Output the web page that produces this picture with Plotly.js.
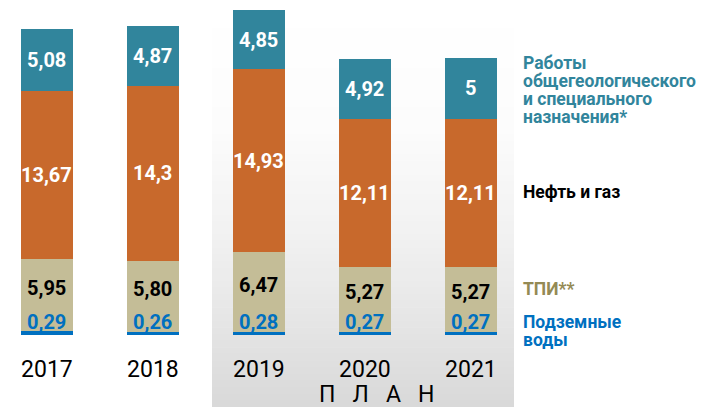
<!DOCTYPE html>
<html>
<head>
<meta charset="utf-8">
<script src="https://cdn.plot.ly/plotly-3.0.1.min.js"></script>
<style>html,body{margin:0;padding:0;background:#fff;}#chart{width:704px;height:407px;}</style>
</head>
<body>
<div id="chart"></div>
<script>
// ---- data ----
const years = ['2017', '2018', '2019', '2020', '2021'];
const water = [0.29, 0.26, 0.28, 0.27, 0.27];       // Подземные воды
const tpi = [5.95, 5.80, 6.47, 5.27, 5.27];         // ТПИ**
const oilGas = [13.67, 14.3, 14.93, 12.11, 12.11];  // Нефть и газ
const general = [5.08, 4.87, 4.85, 4.92, 5];        // Работы общегеологического и специального назначения*
const seriesNames = ['Подземные воды', 'ТПИ**', 'Нефть и газ', 'Работы общегеологического и специального назначения*'];
const planLabel = 'П\u00A0\u00A0\u00A0Л\u00A0\u00A0\u00A0А\u00A0\u00A0\u00A0Н';

// ---- styles ----
const FONT = 'Roboto, "Noto Sans", sans-serif';
const C_WATER = '#0070C0', C_TPI = '#C4BD97', C_OIL = '#C8692C', C_GEN = '#31859C';
const C_TPI_TXT = '#948A54';
const W = 704, H = 407;
const px = x => x / W, py = y => 1 - y / H;   // page pixel -> paper

// background "plan" box with vertical gradient, drawn as thin bands (decoration)
const BOX = {x0: 212, x1: 514, top: 8, bottom: 407, r: 20, bands: 60};
function grayAt(t) { // t: 0 top .. 1 bottom
  const stops = [[0, 255], [0.3, 252], [0.55, 242], [0.8, 229], [1, 216]];
  for (let k = 1; k < stops.length; k++) {
    if (t <= stops[k][0]) {
      const f = (t - stops[k - 1][0]) / (stops[k][0] - stops[k - 1][0]);
      return Math.round(stops[k - 1][1] + f * (stops[k][1] - stops[k - 1][1]));
    }
  }
  return stops[stops.length - 1][1];
}
const shapes = [];
const bandH = (BOX.bottom - BOX.top) / BOX.bands;
for (let k = 0; k < BOX.bands; k++) {
  const yTop = BOX.top + k * bandH, yBot = yTop + bandH + 0.6;
  const g = grayAt((k + 0.5) / BOX.bands);
  const col = `rgb(${g},${g},${g})`;
  if (k === 0) {
    const a = BOX.x0, b = BOX.x1, t = BOX.top, r = BOX.r, bot = t + r;
    const path = `M${px(a)},${py(t + r)} Q${px(a)},${py(t)} ${px(a + r)},${py(t)} L${px(b - r)},${py(t)} Q${px(b)},${py(t)} ${px(b)},${py(t + r)} L${px(b)},${py(bot)} L${px(a)},${py(bot)} Z`;
    shapes.push({type: 'path', xref: 'paper', yref: 'paper', path: path, fillcolor: col, line: {width: 0}, layer: 'below'});
  } else {
    const yt = Math.max(yTop, BOX.top + BOX.r);
    if (yt >= yBot) continue;
    shapes.push({type: 'rect', xref: 'paper', yref: 'paper', x0: px(BOX.x0), x1: px(BOX.x1), y0: py(yBot), y1: py(yt), fillcolor: col, line: {width: 0}, layer: 'below'});
  }
}

const fmt = (v, d) => (d === undefined ? String(v) : v.toFixed(d)).replace('.', ',');

const traces = [
  {type: 'bar', name: seriesNames[0], x: years, y: water, marker: {color: C_WATER}, showlegend: false},
  {type: 'bar', name: seriesNames[1], x: years, y: tpi, marker: {color: C_TPI}, showlegend: false},
  {type: 'bar', name: seriesNames[2], x: years, y: oilGas, marker: {color: C_OIL}, showlegend: false},
  {type: 'bar', name: seriesNames[3], x: years, y: general, marker: {color: C_GEN}, showlegend: false}
];

const annotations = [];
years.forEach((yr, i) => {
  const b1 = water[i], b2 = b1 + tpi[i], b3 = b2 + oilGas[i], b4 = b3 + general[i];
  annotations.push({xref: 'x', yref: 'y', x: i, y: 0, yshift: 13, text: '<b>' + fmt(water[i], 2) + '</b>', showarrow: false,
    font: {family: FONT, size: 20, color: C_WATER}});
  annotations.push({xref: 'x', yref: 'y', x: i, y: (b1 + b2) / 2, yshift: 7, text: '<b>' + fmt(tpi[i], 2) + '</b>', showarrow: false,
    font: {family: FONT, size: 20, color: '#000000'}});
  annotations.push({xref: 'x', yref: 'y', x: i, y: (b2 + b3) / 2, text: '<b>' + fmt(oilGas[i]) + '</b>', showarrow: false,
    font: {family: FONT, size: 20, color: '#ffffff'}});
  annotations.push({xref: 'x', yref: 'y', x: i, y: (b3 + b4) / 2, text: '<b>' + fmt(general[i]) + '</b>', showarrow: false,
    font: {family: FONT, size: 20, color: '#ffffff'}});
});

// right-hand series labels (page pixel positions)
const sideLabels = [
  ['Работы', 63, C_GEN], ['общегеологического', 81, C_GEN], ['и специального', 99, C_GEN], ['назначения*', 117, C_GEN],
  ['Нефть и газ', 192, '#000000'],
  ['ТПИ**', 289, C_TPI_TXT],
  ['Подземные', 322, C_WATER], ['воды', 340, C_WATER]
];
sideLabels.forEach(([t, y, c]) => annotations.push({xref: 'paper', yref: 'paper', x: px(521), y: py(y), xanchor: 'left', yanchor: 'middle',
  text: '<b>' + t + '</b>', showarrow: false, font: {family: FONT, size: 17.5, color: c}}));

annotations.push({xref: 'paper', yref: 'paper', x: px(376), y: py(394), xanchor: 'center', yanchor: 'middle', text: planLabel, showarrow: false,
  font: {family: FONT, size: 23, color: '#000000'}});

const layout = {
  width: W, height: H,
  margin: {l: 0, r: 0, t: 0, b: 0},
  paper_bgcolor: '#ffffff', plot_bgcolor: 'rgba(0,0,0,0)',
  barmode: 'stack', bargap: 0.51,
  showlegend: false,
  font: {family: FONT},
  xaxis: {domain: [0, 520 / W], type: 'category', range: [-0.443, 4.463],
    showgrid: false, zeroline: false, showline: false, ticks: '', fixedrange: true,
    tickfont: {family: FONT, size: 23, color: '#000000'}, ticklabelstandoff: 18},
  yaxis: {domain: [72 / H, 1], range: [0, 335 / 12.25], visible: false, fixedrange: true},
  shapes: shapes,
  annotations: annotations
};

Plotly.newPlot('chart', traces, layout, {staticPlot: true, displayModeBar: false});
</script>
</body>
</html>
